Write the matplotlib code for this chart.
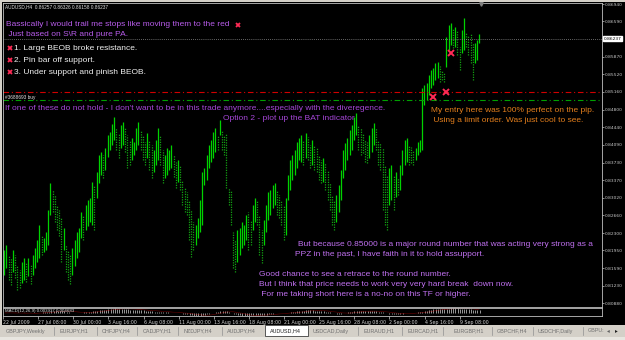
import numpy as np
import pandas as pd
import matplotlib
matplotlib.use("Agg")
import matplotlib.pyplot as plt
from matplotlib.transforms import blended_transform_factory

W, H = 625, 340

# H4 bars, AUDUSD (high / low of each bar)
HIGH = [
    .8196, .8206, .8186, .8180, .8196, .8186, .8166, .8155, .8172, .8180,
    .8172, .8180, .8166, .8186, .8200, .8216, .8247, .8226, .8220, .8232,
    .8277, .8332, .8317, .8307, .8287, .8277, .8261, .8240, .8206, .8196,
    .8186, .8200, .8216, .8232, .8240, .8273, .8267, .8287, .8297, .8301,
    .8334, .8328, .8354, .8388, .8394, .8388, .8402, .8429, .8435, .8451,
    .8465, .8443, .8433, .8449, .8455, .8443, .8429, .8419, .8423, .8415,
    .8443, .8455, .8439, .8429, .8415, .8433, .8419, .8409, .8398, .8419,
    .8443, .8429, .8398, .8388, .8402, .8398, .8409, .8388, .8374, .8378,
    .8368, .8338, .8321, .8313, .8297, .8277, .8253, .8247, .8261, .8297,
    .8354, .8362, .8388, .8409, .8419, .8435, .8443, .8429, .8459, .8439,
    .8429, .8433, .8321, .8317, .8232, .8216, .8236, .8240, .8253, .8247,
    .8267, .8273, .8257, .8287, .8301, .8297, .8267, .8236, .8257, .8287,
    .8313, .8317, .8328, .8332, .8317, .8307, .8297, .8287, .8301, .8348,
    .8378, .8388, .8398, .8415, .8423, .8429, .8419, .8433, .8425, .8409,
    .8419, .8409, .8402, .8388, .8378, .8382, .8372, .8358, .8332, .8307,
    .8297, .8307, .8328, .8358, .8398, .8413, .8423, .8439, .8449, .8465,
    .8473, .8449, .8443, .8433, .8419, .8415, .8429, .8443, .8453, .8443,
    .8419, .8413, .8402, .8368, .8348, .8362, .8368, .8348, .8354, .8342,
    .8368, .8398, .8419, .8423, .8409, .8404, .8398, .8402, .8415, .8419,
    .8524, .8530, .8534, .8550, .8560, .8564, .8575, .8577, .8568, .8560,
    .8556, .8627, .8651, .8656, .8645, .8647, .8641, .8607, .8641, .8666,
    .8637, .8631, .8635, .8615, .8615, .8621, .8633,
]
LOW = [
    .8145, .8159, .8135, .8125, .8151, .8139, .8115, .8119, .8129, .8135,
    .8131, .8143, .8127, .8145, .8159, .8172, .8180, .8186, .8192, .8196,
    .8206, .8267, .8273, .8253, .8236, .8224, .8172, .8196, .8151, .8135,
    .8127, .8145, .8163, .8180, .8192, .8220, .8216, .8236, .8244, .8253,
    .8247, .8236, .8301, .8332, .8348, .8342, .8358, .8384, .8398, .8409,
    .8419, .8398, .8382, .8402, .8409, .8394, .8362, .8368, .8378, .8388,
    .8398, .8409, .8398, .8378, .8368, .8382, .8358, .8342, .8354, .8368,
    .8378, .8368, .8332, .8342, .8348, .8358, .8362, .8344, .8321, .8334,
    .8317, .8287, .8273, .8267, .8216, .8182, .8196, .8206, .8220, .8232,
    .8247, .8328, .8338, .8362, .8374, .8382, .8394, .8398, .8429, .8398,
    .8388, .8321, .8287, .8247, .8159, .8151, .8172, .8186, .8200, .8206,
    .8216, .8196, .8206, .8236, .8253, .8247, .8186, .8170, .8206, .8232,
    .8257, .8267, .8281, .8287, .8267, .8261, .8247, .8216, .8226, .8297,
    .8317, .8338, .8348, .8362, .8378, .8374, .8368, .8382, .8378, .8362,
    .8368, .8358, .8354, .8338, .8332, .8334, .8317, .8297, .8277, .8247,
    .8236, .8253, .8273, .8297, .8342, .8358, .8378, .8388, .8398, .8419,
    .8429, .8398, .8388, .8392, .8374, .8372, .8382, .8394, .8409, .8398,
    .8368, .8358, .8277, .8247, .8236, .8287, .8297, .8277, .8303, .8307,
    .8317, .8348, .8368, .8374, .8368, .8372, .8368, .8378, .8388, .8394,
    .8398, .8490, .8500, .8510, .8524, .8530, .8540, .8544, .8536, .8540,
    .8536, .8566, .8601, .8611, .8605, .8607, .8591, .8560, .8595, .8601,
    .8607, .8591, .8574, .8540, .8574, .8581, .8616,
]

PRICE_TICKS = [0.86940, 0.86590, 0.85870, 0.85520, 0.85160, 0.84800, 0.84440,
               0.84090, 0.83730, 0.83370, 0.83020, 0.82660, 0.82300, 0.81950,
               0.81590, 0.81230, 0.80880]
LAST_PRICE = 0.86237
STOP_PRICE = 0.8516
ORDER_PRICE = 0.8500

TIME_LABELS = ["22 Jul 2009", "27 Jul 08:00", "30 Jul 00:00", "3 Aug 16:00",
               "6 Aug 08:00", "11 Aug 00:00", "13 Aug 16:00", "18 Aug 08:00",
               "21 Aug 00:00", "25 Aug 16:00", "28 Aug 08:00", "2 Sep 00:00",
               "4 Sep 16:00", "9 Sep 08:00"]

# red crosses on the chart (bar index, price)
CROSS_BAR = [203, 201, 195]
CROSS_PRICE = [0.8595, 0.8516, 0.8506]

TABS = ["GBPJPY,Weekly", "EURJPY,H1", "CHFJPY,H4", "CADJPY,H1", "NZDJPY,H4",
        "AUDJPY,H4", "AUDUSD,H4", "USDCAD,Daily", "EURAUD,H1", "EURCAD,H1",
        "EURGBP,H1", "GBPCHF,H4", "USDCHF,Daily", "GBPU:"]

high = np.array(HIGH)
low = np.array(LOW)
n = len(high)
bars = np.arange(n)
mid = (high + low) / 2
up = np.r_[True, mid[1:] >= mid[:-1]]


def box(x0, y0, x1, y1):
    return [x0 / W, 1 - y1 / H, (x1 - x0) / W, (y1 - y0) / H]


def px2bar(p):
    return (p - 4.1) / 2.2


def px2price(p):
    return 0.87021 - 0.0002025 * p


fig = plt.figure(figsize=(W / 100, H / 100), dpi=100, facecolor='#d4d0c8')

bg = fig.add_axes(box(2, 2, 625, 325), facecolor='black')
bg.set_xticks([])
bg.set_yticks([])
for s in bg.spines.values():
    s.set_visible(False)

# price window
ax = fig.add_axes(box(3, 3, 602, 307), facecolor='black')
ax.set_xlim(px2bar(3), px2bar(602))
ax.set_ylim(px2price(307), px2price(3))
ax.vlines(bars[up], low[up], high[up], color='#00d200', lw=0.9)
ax.vlines(bars[~up], low[~up], high[~up], color='#12a012', lw=0.9,
          linestyles=(0, (1, 1)))
ax.axhline(LAST_PRICE, color='#8a8a8a', lw=0.6, ls=(0, (1, 1.5)))
ax.axhline(STOP_PRICE, color='#d00000', lw=0.8, ls=(0, (5, 2.5, 1, 2.5)))
ax.axhline(ORDER_PRICE, color='#00a000', lw=0.8, ls=(0, (5, 2.5, 1, 2.5)))
ax.plot(CROSS_BAR, CROSS_PRICE, 'x', color='#ff2a55', ms=4, mew=1.4)

ax.set_xticks([])
ax.yaxis.tick_right()
ax.set_yticks(PRICE_TICKS, [f"{p:.5f}" for p in PRICE_TICKS])
ax.tick_params(axis='y', colors='#c8c8c8', labelsize=3.2, length=1.5,
               width=0.5, pad=0.6)
for s in ax.spines.values():
    s.set_color('#c0c0c0')
    s.set_linewidth(0.6)
trans = blended_transform_factory(ax.transAxes, ax.transData)
ax.text(1.003, LAST_PRICE, f"{LAST_PRICE:.5f}", transform=trans, fontsize=3.2,
        color='black', va='center', ha='left',
        bbox=dict(boxstyle='square,pad=0.15', fc='white', ec='white'))

# MACD window
close = pd.Series(mid)
macd = close.ewm(span=12, adjust=False).mean() - close.ewm(span=26, adjust=False).mean()
signal = macd.rolling(9, min_periods=1).mean()
axm = fig.add_axes(box(3, 308, 602, 316), facecolor='black')
axm.set_xlim(px2bar(3), px2bar(602))
axm.vlines(bars, 0, macd.values, color='#b0b0b0', lw=0.6)
axm.plot(bars, signal.values, color='#d00000', lw=0.4, ls=(0, (1, 1)))
axm.set_ylim(macd.min() * 1.05, macd.max() * 1.05)
axm.set_yticks([])
tick_pos = np.arange(-1, n, 16)[:len(TIME_LABELS)]
axm.set_xticks(tick_pos, TIME_LABELS)
axm.tick_params(axis='x', colors='#d0d0d0', labelsize=3.4, length=2,
                width=0.5, pad=0.8)
for lab in axm.get_xticklabels():
    lab.set_ha('left')
for s in axm.spines.values():
    s.set_color('#c0c0c0')
    s.set_linewidth(0.6)

# overlay for texts, in pixels
ov = fig.add_axes([0, 0, 1, 1])
ov.set_xlim(0, W)
ov.set_ylim(H, 0)
ov.axis('off')
ov.patch.set_alpha(0)

FONT = ['Liberation Sans', 'DejaVu Sans']
F = 6.0
VIOLET = '#b85ceb'
PURPLE = '#a646d8'
LILAC = '#c070f0'
ORANGE = '#e47f1c'
XRED = '#ff2a55'


def say(x, y, s, c, size=F):
    ov.text(x, y, s, color=c, fontsize=size, family=FONT, va='center', ha='left')


say(5, 7, "AUDUSD,H4  0.86257 0.86326 0.86158 0.86237", '#e0e0e0', 3.4)
say(6, 25, "Bassically I would trail me stops like moving them to the red", VIOLET)
ov.plot(238, 25, 'x', color=XRED, ms=3.5, mew=1.3)
say(6, 35, " Just based on S\\R and pure PA.", VIOLET)
for k, s in enumerate(["1. Large BEOB broke resistance.",
                       "2. Pin bar off support.",
                       "3. Under support and pinish BEOB."]):
    y = 48 + 12 * k
    ov.plot(10, y, 'x', color=XRED, ms=3.5, mew=1.3)
    say(14, y, s, '#f0f0f0')
say(5, 98, "#3688693 buy", '#e0e0e0', 3.4)
say(5, 109, "If one of these do not hold - I don't want to be in this trade "
            "anymore....especially with the diveregence.", PURPLE)
say(223, 119, "Option 2 - plot up the BAT indicator", PURPLE)
say(431, 110, "My entry here was 100% perfect on the pip.", ORANGE)
say(431, 121, " Using a limit order. Was just cool to see.", ORANGE)
say(298, 244, "But because 0.85000 is a major round number that was acting very strong as a", LILAC)
say(295, 254, "PPZ in the past, I have faith in it to hold assupport.", LILAC)
say(259, 274, "Good chance to see a retrace to the round number.", LILAC)
say(259, 284, "But I think that price needs to work very very hard break  down now.", LILAC)
say(259, 294, " For me taking short here is a no-no on this TF or higher.", LILAC)
say(5, 311, "MACD(12,26,9) 0.003937 0.004683", '#e0e0e0', 3.2)
ov.plot(481, 4, marker='v', color='#808080', ms=2.5)

# tabs
ov.add_patch(plt.Rectangle((0, 325), W, 15, fc='#d4d0c8', ec='none'))
ov.add_patch(plt.Rectangle((0, 337), W, 3, fc='#e8e6e0', ec='none'))
tab_x = [6, 60, 102, 143, 184, 227, 270, 313, 363, 407, 453, 497, 538, 588]
seps = [54, 97, 137, 178, 222, 358, 402, 443, 492, 533, 583]
ov.add_patch(plt.Rectangle((265, 324.5), 43, 11, fc='white', ec='#404040', lw=0.6))
for x0, s in zip(tab_x, TABS):
    say(x0, 331, s, '#202020' if s == "AUDUSD,H4" else '#707070', 3.9)
for sx in seps:
    ov.plot([sx, sx], [327, 335], color='#909090', lw=0.5)
say(607, 331, "◂", '#606060', 4.0)
say(615, 331, "▸", '#202020', 4.0)

fig.savefig('out.png', dpi=100, facecolor=fig.get_facecolor())
